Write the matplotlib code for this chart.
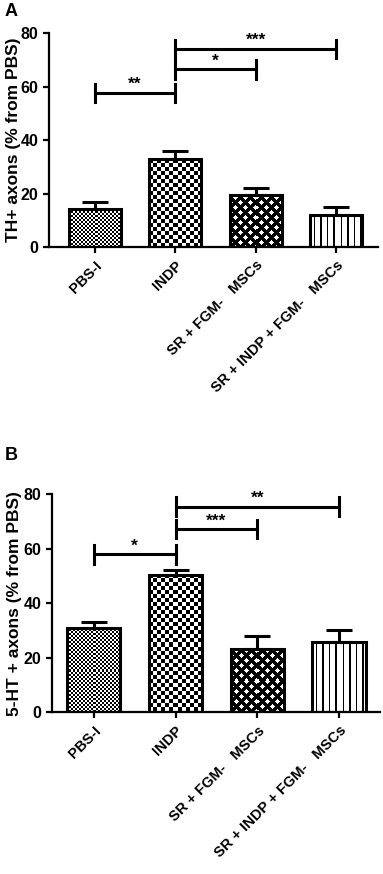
import numpy as np
import matplotlib
matplotlib.use("Agg")
import matplotlib.pyplot as plt

plt.rcParams["font.family"] = ["Liberation Sans", "DejaVu Sans"]
plt.rcParams["font.weight"] = "bold"

groups = ["PBS-I", "INDP", "SR + FGM-   MSCs", "SR + INDP + FGM-   MSCs"]
patterns = ["fine", "checker", "diamond", "vlines"]

# panel A: TH+ axons
th_mean = [14.2, 32.8, 19.3, 12.0]
th_err = [2.7, 3.1, 2.9, 3.0]
th_pairs = [(0, 1), (1, 2), (1, 3)]
th_heights = [57.7, 66.4, 74.1]
th_stars = ["**", "*", "***"]

# panel B: 5-HT axons
ht_mean = [31.0, 50.4, 23.2, 25.9]
ht_err = [2.0, 1.8, 4.8, 4.3]
ht_pairs = [(0, 1), (1, 2), (1, 3)]
ht_heights = [58.0, 67.2, 75.5]
ht_stars = ["*", "***", "**"]

yticks = [0, 20, 40, 60, 80]
bar_w = 0.65


def texture(kind, w, h):
    j, i = np.meshgrid(np.arange(w), np.arange(h))
    if kind == "fine":
        return ((i // 2 + j // 2) % 2).astype(float)
    if kind == "checker":
        return ((i // 4 + j // 4) % 2).astype(float)
    if kind == "diamond":
        black = ((i + j) % 10 < 4.5) | ((i - j) % 10 < 4.5)
        return (~black).astype(float)
    # vertical lines
    return (((j + 3) % 6.5) >= 1.5).astype(float)


def panel(fig, rect, xlim, means, errs, pairs, heights, stars, ylabel, label_x, letter, letter_y):
    ax = fig.add_axes(rect)
    x = np.arange(len(groups))
    ax.set_xlim(*xlim)
    ax.set_ylim(0, 80)

    bars = ax.bar(x, means, width=bar_w, color="white", edgecolor="none", zorder=1)
    for b, kind in zip(bars, patterns):
        x0, y0 = b.get_x(), 0
        x1, y1 = x0 + b.get_width(), b.get_height()
        p0 = ax.transData.transform((x0, y0))
        p1 = ax.transData.transform((x1, y1))
        w = max(int(round(p1[0] - p0[0])), 1)
        h = max(int(round(p1[1] - p0[1])), 1)
        im = ax.imshow(texture(kind, w, h), cmap="gray", vmin=0, vmax=1,
                       extent=(x0, x1, y0, y1), interpolation="nearest",
                       aspect="auto", zorder=1.5)
        im.set_clip_path(b)
    ax.bar(x, means, width=bar_w, color="none", edgecolor="black", linewidth=2.2, zorder=2)
    ax.errorbar(x, means, yerr=[np.zeros(len(errs)), errs], fmt="none", ecolor="black",
                elinewidth=2.2, capsize=9.4, capthick=2.2, zorder=1.8)
    ax.set_xlim(*xlim)
    ax.set_ylim(0, 80)

    for (a, b), hgt, s in zip(pairs, heights, stars):
        ax.plot([a, b], [hgt, hgt], color="black", lw=2.2, clip_on=False)
        for xx in (a, b):
            ax.plot([xx, xx], [hgt - 3.4, hgt + 3.4], color="black", lw=2.2, clip_on=False)
        ax.text((a + b) / 2, hgt + 0.3, s, ha="center", va="bottom", fontsize=12.5, fontweight="bold")

    ax.spines["top"].set_visible(False)
    ax.spines["right"].set_visible(False)
    ax.spines["left"].set_linewidth(1.6)
    ax.spines["bottom"].set_linewidth(1.6)
    ax.set_yticks(yticks)
    ax.set_xticks(x)
    ax.set_xticklabels(groups, rotation=45, ha="right", va="top", rotation_mode="anchor",
                       fontsize=10.5, fontweight="bold")
    ax.tick_params(axis="both", width=1.6, length=4, labelsize=11.5)
    ax.tick_params(axis="x", pad=4, labelsize=10.5)
    for t in ax.get_yticklabels():
        t.set_fontweight("bold")
    ax.set_ylabel(ylabel, fontsize=12.5, fontweight="bold")
    ax.yaxis.set_label_coords(label_x, 0.5)
    fig.text(0.013, letter_y, letter, fontsize=13, fontweight="bold", va="center")
    return ax


fig = plt.figure(figsize=(3.83, 8.74), dpi=100)
panel(fig, [0.128, 0.7174, 0.859, 0.2448], (-0.57, 3.52), th_mean, th_err,
      th_pairs, th_heights, th_stars, "TH+ axons (% from PBS)", -0.084, "A", 1 - 12 / 874)
panel(fig, [0.136, 0.1851, 0.856, 0.2493], (-0.51, 3.50), ht_mean, ht_err,
      ht_pairs, ht_heights, ht_stars, "5-HT + axons (% from PBS)", -0.093, "B", 1 - 455 / 874)

fig.savefig("out.png", dpi=100)
